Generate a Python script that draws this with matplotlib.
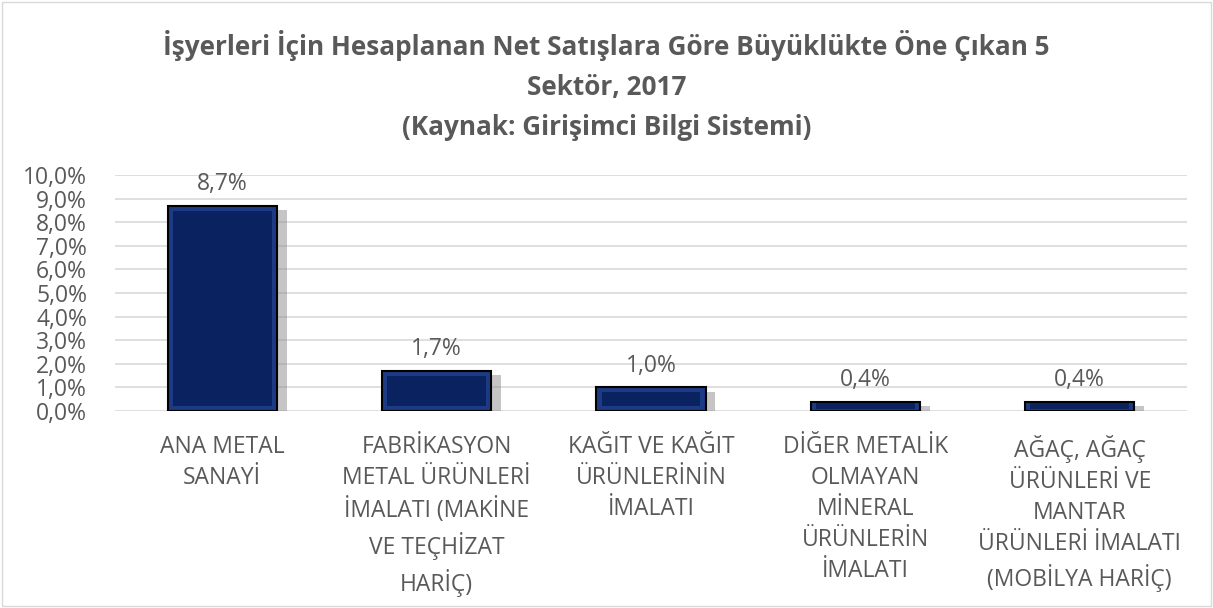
import matplotlib.pyplot as plt
import matplotlib.patheffects as pe
from matplotlib.patches import Rectangle
from matplotlib.ticker import FuncFormatter

plt.rcParams['font.family'] = ['Open Sans', 'DejaVu Sans']

# veriler
sektorler = [
    'ANA METAL\nSANAYİ',
    'FABRİKASYON\nMETAL ÜRÜNLERİ\nİMALATI (MAKİNE\nVE TEÇHİZAT\nHARİÇ)',
    'KAĞIT VE KAĞIT\nÜRÜNLERİNİN\nİMALATI',
    'DİĞER METALİK\nOLMAYAN\nMİNERAL\nÜRÜNLERİN\nİMALATI',
    'AĞAÇ, AĞAÇ\nÜRÜNLERİ VE\nMANTAR\nÜRÜNLERİ İMALATI\n(MOBİLYA HARİÇ)',
]
oranlar = [8.7, 1.7, 1.0, 0.4, 0.4]
etiketler = ['8,7%', '1,7%', '1,0%', '0,4%', '0,4%']
baslik = ('İşyerleri İçin Hesaplanan Net Satışlara Göre Büyüklükte Öne Çıkan 5\n'
          'Sektör, 2017\n(Kaynak: Girişimci Bilgi Sistemi)')

gri = '#595959'

fig = plt.figure(figsize=(12.13, 6.08), dpi=100)
ax = fig.add_axes([115 / 1213, 1 - 411 / 608, 1072 / 1213, 236 / 608])

x = range(len(oranlar))
genislik = 0.51

# dis cubuk (acik kenar + golge)
bars = ax.bar(x, oranlar, width=genislik, color='#1d3b84', edgecolor='black',
              linewidth=1.5, zorder=3)
for b in bars:
    b.set_path_effects([pe.SimplePatchShadow(offset=(7, -3), shadow_rgbFace='#8c8c8c', alpha=0.5),
                        pe.Normal()])

# ic koyu kisim (bevel etkisi)
for i, v in enumerate(oranlar):
    iy = min(0.22, v * 0.2)
    ax.bar(i, v - 2 * iy, bottom=iy, width=genislik - 0.05, color='#0a225f',
           linewidth=0, zorder=4)

for i, (v, t) in enumerate(zip(oranlar, etiketler)):
    ax.annotate(t, (i, v), xytext=(0, 7), textcoords='offset points',
                ha='center', va='bottom', fontsize=16.5, color=gri)

ax.set_ylim(0, 10)
ax.set_xlim(-0.5, len(oranlar) - 0.5)
ax.set_yticks(range(0, 11))
ax.yaxis.set_major_formatter(FuncFormatter(lambda v, p: f'{v:.1f}%'.replace('.', ',')))
ax.set_xticks(list(x))
ax.set_xticklabels(sektorler, fontsize=16.5, color=gri, linespacing=1.39, va='top')
ax.tick_params(axis='y', labelsize=16.5, labelcolor=gri, length=0, pad=20)
ax.tick_params(axis='x', length=0, pad=17)
ax.grid(axis='y', color='#d9d9d9', linewidth=1.2, zorder=0)
for s in ax.spines.values():
    s.set_visible(False)

fig.text(0.5, 1 - 30 / 608, baslik, ha='center', va='top', fontsize=18.8,
         fontweight='bold', color=gri, linespacing=1.62)

fig.patches.append(Rectangle((0.002, 0.003), 0.996, 0.994, transform=fig.transFigure,
                             fill=False, edgecolor='#d9d9d9', linewidth=1))

fig.savefig('out.png', dpi=100)
